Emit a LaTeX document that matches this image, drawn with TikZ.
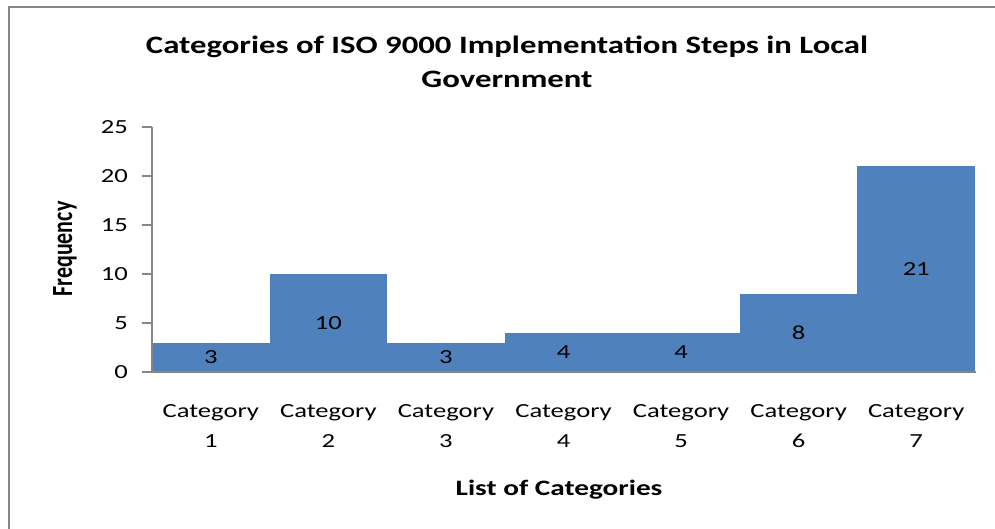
\documentclass[tikz,border=0pt]{standalone}
\usepackage{fontspec}
\setmainfont{Carlito}
\usepackage{graphicx}
\usepackage{xcolor}
\usetikzlibrary{positioning}

\definecolor{barblue}{HTML}{4F81BD}
\definecolor{axisgray}{HTML}{868686}
\newcommand{\wide}[1]{\scalebox{1.33}[1]{#1}}

\tikzset{
    axisline/.style={axisgray, line width=1.5pt},
    ticklabel/.style={anchor=east, inner sep=0pt},
    catlabel/.style={align=center, inner sep=0pt, font=\fontsize{20}{30}\selectfont},
    axistitle/.style={inner sep=0pt, font=\bfseries\fontsize{22}{26}\selectfont},
    titleline/.style={anchor=base, inner sep=0pt, font=\bfseries\fontsize{25}{25}\selectfont}
}

\begin{document}
\begin{tikzpicture}[x=1pt, y=-1pt, font=\fontsize{20}{24}\selectfont]
    \useasboundingbox (0,0) rectangle (995,529);

    % Outer frame
    \draw[axisgray, line width=2.5pt] (9,7) rectangle (1010,545);

    % Chart title
    \node[titleline] (title) at (507,54)
        {\scalebox{1.31}[1]{Categories of ISO 9000 Implementation Steps in Local}};
    \node[titleline] (title2) at (507,88)
        {\scalebox{1.31}[1]{Government}};

    % Bars with their values and category names
    \foreach \v [count=\i] in {3, 10, 3, 4, 4, 8, 21} {
        \pgfmathsetmacro{\l}{152 + (\i-1)*117.57}
        \fill[barblue] (\l,372) rectangle ({\l+117.57}, {372-9.8*\v});
        \node[inner sep=0pt] (val\i) at ({\l+58.8}, {372-4.9*\v}) {\wide{\v}};
        \node[catlabel] (cat\i) at ({\l+58.8}, 426) {\wide{Category}\\\wide{\i}};
    }

    % Y-axis with ticks
    \draw[axisline] (152,127) -- (152,372);
    \draw[axisline] (142,372) -- (976,372);
    \foreach \t in {0, 5, 10, 15, 20, 25} {
        \draw[axisline] (142, {372-9.8*\t}) -- (152, {372-9.8*\t});
        \node[ticklabel] (tick\t) at (128, {372-9.8*\t}) {\wide{\t}};
    }

    % Axis titles
    \node[axistitle, rotate=90] (ytitle) at (65,249) {\scalebox{1}[1.33]{Frequency}};
    \node[axistitle, anchor=base] (xtitle) at (559,495) {\wide{List of Categories}};
\end{tikzpicture}
\end{document}
